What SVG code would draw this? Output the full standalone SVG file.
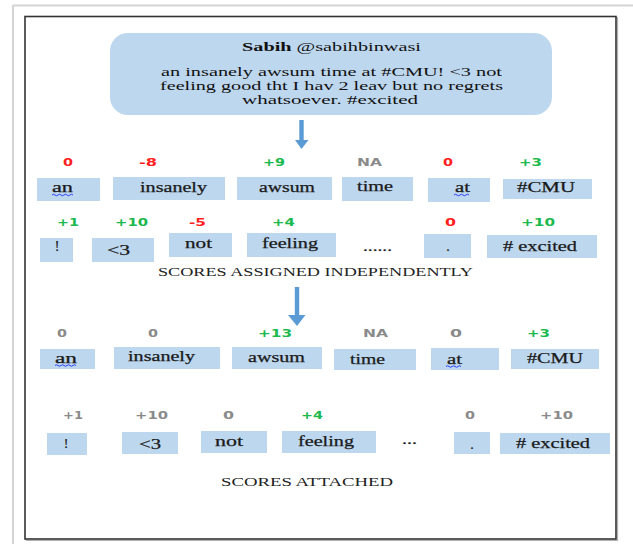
<svg xmlns="http://www.w3.org/2000/svg" width="633" height="544" viewBox="0 0 633 544">
<style>
.box{fill:#bdd7ee}
.tw{font-family:"Liberation Serif","Times New Roman",serif;font-size:13.5px;fill:#111}
.lb{font-family:"Liberation Serif","Times New Roman",serif;font-size:14px;fill:#1a1a1a;stroke:#1a1a1a;stroke-width:0.25}
.sc{font-family:"DejaVu Sans","Liberation Sans",sans-serif;font-size:11px;font-weight:bold}
.r{fill:#ff2020}.g{fill:#1cb94e}.k{fill:#8a8a8a}
.cap{font-family:"Liberation Serif","Times New Roman",serif;font-size:12px;fill:#222}
.arrow{fill:#5b9bd5}
.sq{fill:none;stroke:#2b3bff;stroke-width:1}
</style>
<defs>
<clipPath id="clipBang"><rect x="40" y="439" width="60" height="20"/></clipPath>
</defs>
<rect width="633" height="544" fill="#fff"/>
<!-- outer frames -->
<line x1="13" y1="5.5" x2="633" y2="5.5" stroke="#d4d4d4" stroke-width="2"/>
<line x1="13" y1="5" x2="13" y2="544" stroke="#d4d4d4" stroke-width="2"/>
<line x1="617.5" y1="17" x2="617.5" y2="541" stroke="#b0b0b0" stroke-width="1.2"/>
<line x1="26" y1="540.5" x2="618" y2="540.5" stroke="#b0b0b0" stroke-width="1.2"/>
<rect x="25" y="16.5" width="591" height="522.5" fill="none" stroke="#333" stroke-width="1.6"/>

<g id="tweet">
<rect class="box" x="110" y="33" width="442" height="82" rx="18"/>
<text class="tw" x="242" y="51" textLength="179" lengthAdjust="spacingAndGlyphs"><tspan font-weight="bold">Sabih</tspan> @sabihbinwasi</text>
<text class="tw" x="161" y="76" textLength="341" lengthAdjust="spacingAndGlyphs">an insanely awsum time at #CMU! &lt;3 not</text>
<text class="tw" x="160" y="90" textLength="343" lengthAdjust="spacingAndGlyphs">feeling good tht I hav 2 leav but no regrets</text>
<text class="tw" x="242" y="104" textLength="176" lengthAdjust="spacingAndGlyphs">whatsoever. #excited</text>
</g>

<g id="connectors">
<rect class="arrow" x="299.3" y="120" width="4.4" height="21"/>
<polygon class="arrow" points="295,140 308.5,140 301.5,149"/>
<rect class="arrow" x="294.8" y="287" width="4.4" height="29"/>
<polygon class="arrow" points="288,315 305.5,315 297,326"/>
</g>

<!-- Row 1: independent scores -->
<g id="r1-an"><text class="sc r" x="63" y="166" textLength="10" lengthAdjust="spacingAndGlyphs">0</text><rect class="box" x="37" y="178" width="63" height="23"/><text class="lb" x="52" y="192" textLength="21" lengthAdjust="spacingAndGlyphs">an</text><path class="sq" d="M52,195 q1.5,-1.5 3,0 t3,0 t3,0 t3,0 t3,0 t3,0 t3,0"/></g>
<g id="r1-insanely"><text class="sc r" x="139" y="166" textLength="18" lengthAdjust="spacingAndGlyphs">-8</text><rect class="box" x="113" y="177" width="112" height="23"/><text class="lb" x="140" y="192" textLength="67" lengthAdjust="spacingAndGlyphs">insanely</text></g>
<g id="r1-awsum"><text class="sc g" x="263" y="166" textLength="22" lengthAdjust="spacingAndGlyphs">+9</text><rect class="box" x="237" y="177" width="95" height="23"/><text class="lb" x="259" y="192" textLength="56" lengthAdjust="spacingAndGlyphs">awsum</text></g>
<g id="r1-time"><text class="sc k" x="357" y="166" textLength="25" lengthAdjust="spacingAndGlyphs">NA</text><rect class="box" x="342" y="177" width="71" height="24"/><text class="lb" x="357" y="191" textLength="36" lengthAdjust="spacingAndGlyphs">time</text></g>
<g id="r1-at"><text class="sc r" x="443" y="166" textLength="10" lengthAdjust="spacingAndGlyphs">0</text><rect class="box" x="428" y="178" width="62" height="24"/><text class="lb" x="455" y="192" textLength="15" lengthAdjust="spacingAndGlyphs">at</text><path class="sq" d="M454,195 q1.5,-1.5 3,0 t3,0 t3,0 t3,0 t3,0"/></g>
<g id="r1-cmu"><text class="sc g" x="519" y="166" textLength="23" lengthAdjust="spacingAndGlyphs">+3</text><rect class="box" x="503" y="179" width="89" height="20"/><text class="lb" x="517" y="192" textLength="58" lengthAdjust="spacingAndGlyphs">#CMU</text></g>

<!-- Row 2 -->
<g id="r2-bang"><text class="sc g" x="57" y="226" textLength="22" lengthAdjust="spacingAndGlyphs">+1</text><rect class="box" x="40" y="238" width="33" height="24"/><text class="lb" x="57" y="251" text-anchor="middle">!</text></g>
<g id="r2-heart"><text class="sc g" x="115" y="226" textLength="33" lengthAdjust="spacingAndGlyphs">+10</text><rect class="box" x="92" y="238" width="62" height="24"/><text class="lb" x="107" y="255" textLength="23" lengthAdjust="spacingAndGlyphs">&lt;3</text></g>
<g id="r2-not"><text class="sc r" x="189" y="226" textLength="17" lengthAdjust="spacingAndGlyphs">-5</text><rect class="box" x="169" y="233" width="63" height="24"/><text class="lb" x="185" y="248" textLength="27" lengthAdjust="spacingAndGlyphs">not</text></g>
<g id="r2-feeling"><text class="sc g" x="272" y="226" textLength="23" lengthAdjust="spacingAndGlyphs">+4</text><rect class="box" x="247" y="233" width="89" height="24"/><text class="lb" x="262" y="248" textLength="56" lengthAdjust="spacingAndGlyphs">feeling</text></g>
<g id="r2-ellipsis"><text class="lb" x="363" y="251" font-size="10" textLength="29" lengthAdjust="spacingAndGlyphs">......</text></g>
<g id="r2-dot"><text class="sc r" x="445" y="226" textLength="11" lengthAdjust="spacingAndGlyphs">0</text><rect class="box" x="424" y="234" width="47" height="24"/><text class="lb" x="448" y="251" text-anchor="middle">.</text></g>
<g id="r2-excited"><text class="sc g" x="521" y="226" textLength="34" lengthAdjust="spacingAndGlyphs">+10</text><rect class="box" x="487" y="235" width="110" height="23"/><text class="lb" x="503" y="251" textLength="74" lengthAdjust="spacingAndGlyphs"># excited</text></g>

<g id="caption1"><text class="cap" x="158" y="276" textLength="315" lengthAdjust="spacingAndGlyphs">SCORES ASSIGNED INDEPENDENTLY</text></g>

<!-- Row 3: attached scores -->
<g id="r3-an"><text class="sc k" x="57" y="337" textLength="10" lengthAdjust="spacingAndGlyphs">0</text><rect class="box" x="40" y="349" width="55" height="20"/><text class="lb" x="55" y="363" textLength="22" lengthAdjust="spacingAndGlyphs">an</text><path class="sq" d="M55,365.5 q1.5,-1.5 3,0 t3,0 t3,0 t3,0 t3,0 t3,0 t3,0"/></g>
<g id="r3-insanely"><text class="sc k" x="148" y="337" textLength="10" lengthAdjust="spacingAndGlyphs">0</text><rect class="box" x="114" y="347" width="106" height="22"/><text class="lb" x="128" y="361" textLength="67" lengthAdjust="spacingAndGlyphs">insanely</text></g>
<g id="r3-awsum"><text class="sc g" x="258" y="337" textLength="34" lengthAdjust="spacingAndGlyphs">+13</text><rect class="box" x="232" y="347" width="90" height="22"/><text class="lb" x="248" y="362" textLength="57" lengthAdjust="spacingAndGlyphs">awsum</text></g>
<g id="r3-time"><text class="sc k" x="363" y="337" textLength="25" lengthAdjust="spacingAndGlyphs">NA</text><rect class="box" x="334" y="349" width="82" height="21"/><text class="lb" x="350" y="364" textLength="35" lengthAdjust="spacingAndGlyphs">time</text></g>
<g id="r3-at"><text class="sc k" x="450" y="337" textLength="12" lengthAdjust="spacingAndGlyphs">0</text><rect class="box" x="431" y="348" width="68" height="22"/><text class="lb" x="447" y="364" textLength="15" lengthAdjust="spacingAndGlyphs">at</text><path class="sq" d="M446,366.5 q1.5,-1.5 3,0 t3,0 t3,0 t3,0 t3,0"/></g>
<g id="r3-cmu"><text class="sc g" x="527" y="337" textLength="23" lengthAdjust="spacingAndGlyphs">+3</text><rect class="box" x="511" y="349" width="88" height="20"/><text class="lb" x="527" y="363" textLength="56" lengthAdjust="spacingAndGlyphs">#CMU</text></g>

<!-- Row 4 -->
<g id="r4-bang"><text class="sc k" x="63" y="419" textLength="20" lengthAdjust="spacingAndGlyphs">+1</text><rect class="box" x="47" y="433" width="40" height="22"/><text class="lb" x="66" y="448" text-anchor="middle" clip-path="url(#clipBang)">!</text></g>
<g id="r4-heart"><text class="sc k" x="135" y="419" textLength="33" lengthAdjust="spacingAndGlyphs">+10</text><rect class="box" x="122" y="432" width="56" height="22"/><text class="lb" x="139" y="449" textLength="22" lengthAdjust="spacingAndGlyphs">&lt;3</text></g>
<g id="r4-not"><text class="sc k" x="223" y="419" textLength="11" lengthAdjust="spacingAndGlyphs">0</text><rect class="box" x="201" y="431" width="66" height="22"/><text class="lb" x="215" y="446" textLength="28" lengthAdjust="spacingAndGlyphs">not</text></g>
<g id="r4-feeling"><text class="sc g" x="301" y="419" textLength="22" lengthAdjust="spacingAndGlyphs">+4</text><rect class="box" x="282" y="431" width="94" height="22"/><text class="lb" x="298" y="446" textLength="56" lengthAdjust="spacingAndGlyphs">feeling</text></g>
<g id="r4-ellipsis"><text class="lb" x="402" y="444" font-size="10" textLength="15" lengthAdjust="spacingAndGlyphs">...</text></g>
<g id="r4-dot"><text class="sc k" x="465" y="419" textLength="10" lengthAdjust="spacingAndGlyphs">0</text><rect class="box" x="454" y="432" width="36" height="22"/><text class="lb" x="472" y="449" text-anchor="middle">.</text></g>
<g id="r4-excited"><text class="sc k" x="540" y="419" textLength="33" lengthAdjust="spacingAndGlyphs">+10</text><rect class="box" x="500" y="433" width="110" height="21"/><text class="lb" x="516" y="448" textLength="74" lengthAdjust="spacingAndGlyphs"># excited</text></g>

<g id="caption2"><text class="cap" x="221" y="486" textLength="172" lengthAdjust="spacingAndGlyphs">SCORES ATTACHED</text></g>
</svg>
